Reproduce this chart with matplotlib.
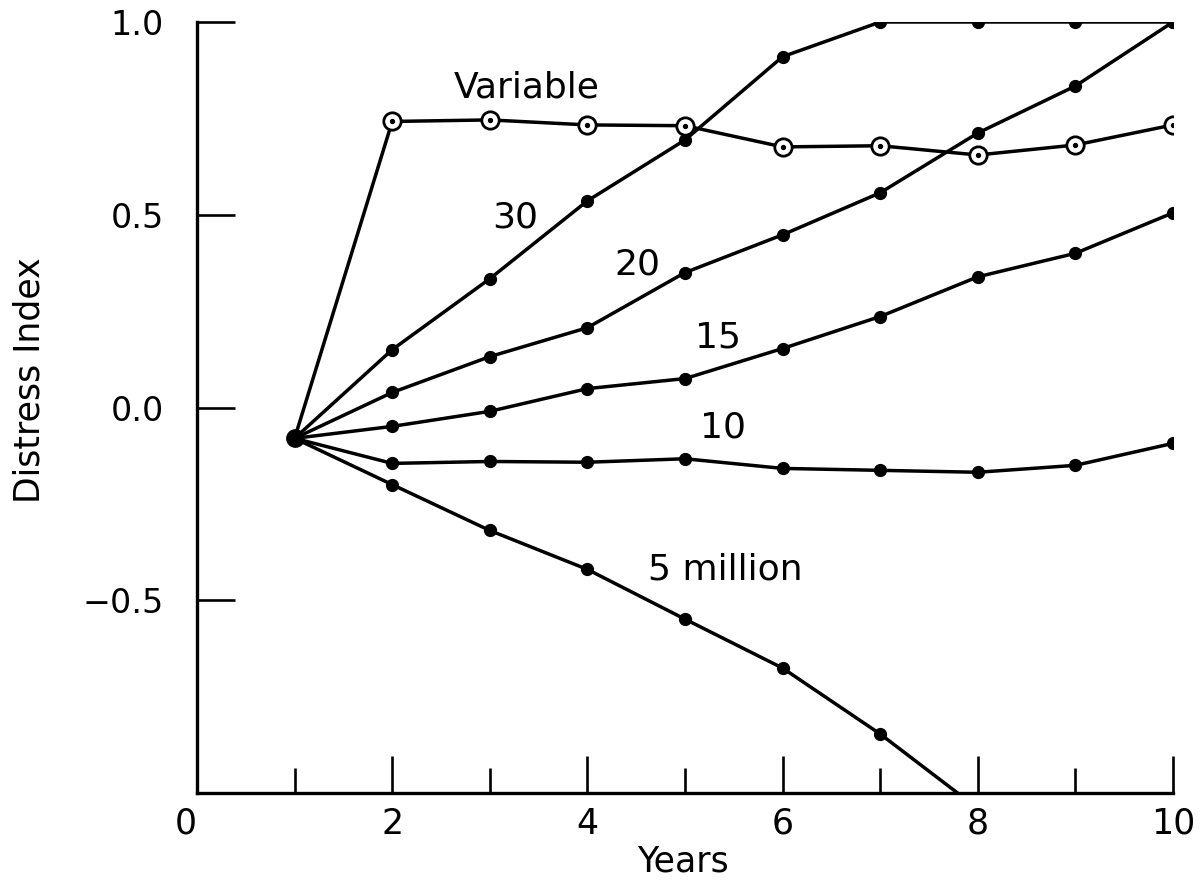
import matplotlib
matplotlib.use("Agg")
import matplotlib.pyplot as plt
from matplotlib.ticker import FixedLocator, FixedFormatter

plt.rcParams['font.family'] = ['DejaVu Sans']

# ---- data ----
years = [1, 2, 3, 4, 5, 6, 7, 8, 9, 10]
start_value = -0.08
series_30 = [-0.08, 0.150, 0.334, 0.536, 0.694, 0.91, 1.0, 1.0, 1.0, 1.0]
series_20 = [-0.08, 0.039, 0.132, 0.207, 0.350, 0.448, 0.557, 0.712, 0.834, 1.0]
series_15 = [-0.08, -0.049, -0.010, 0.049, 0.075, 0.153, 0.236, 0.339, 0.400, 0.505]
series_10 = [-0.08, -0.145, -0.140, -0.142, -0.133, -0.158, -0.163, -0.168, -0.150, -0.093]
years_5 = [1, 2, 3, 4, 5, 6, 7, 8]
series_5 = [-0.08, -0.200, -0.319, -0.420, -0.549, -0.676, -0.847, -1.04]
series_var = [-0.08, 0.742, 0.746, 0.733, 0.731, 0.676, 0.679, 0.655, 0.681, 0.733]

series_labels = ["30", "20", "15", "10", "5 million", "Variable"]
label_pos = [(3.26, 0.492), (4.51, 0.370), (5.34, 0.181), (5.39, -0.052),
             (5.41, -0.42), (3.38, 0.829)]

xtick_major = [0, 2, 4, 6, 8, 10]
xtick_minor = [1, 3, 5, 7, 9]
ytick_vals = [-0.5, 0.0, 0.5, 1.0]
ytick_labels = ["\u22120.5", "0.0", "0.5", "1.0"]

# ---- figure ----
W, H = 1202, 885
fig = plt.figure(figsize=(W / 100, H / 100), dpi=100)
ax = fig.add_axes([197 / W, 1 - 793 / H, (1173 - 197) / W, (793 - 22) / H])
ax.set_xlim(0, 10)
ax.set_ylim(-1.0, 1.0)

lw = 2.5
for ys, xs in [(series_30, years), (series_20, years), (series_15, years),
               (series_10, years), (series_5, years_5)]:
    ax.plot(xs, ys, color='black', lw=lw, zorder=2, solid_capstyle='round')
    ax.plot(xs[1:], ys[1:], 'o', color='black', ms=8.5, zorder=3)

ax.plot(years, series_var, color='black', lw=lw, zorder=2)
ax.plot(years[1:], series_var[1:], 'o', mfc='white', mec='black', mew=2.0,
        ms=12.5, zorder=4)
ax.plot(years[1:], series_var[1:], 'o', color='black', ms=2.8, zorder=5)

ax.plot([years[0]], [start_value], 'o', color='black', ms=12.5, zorder=5)

for txt, (x, y) in zip(series_labels, label_pos):
    ax.text(x, y, txt, fontsize=26, ha='center', va='center')

# spines
for s in ['top', 'right']:
    ax.spines[s].set_visible(False)
for s in ['left', 'bottom']:
    ax.spines[s].set_linewidth(2.4)

ax.xaxis.set_major_locator(FixedLocator(xtick_major))
ax.xaxis.set_major_formatter(FixedFormatter([str(v) for v in xtick_major]))
ax.xaxis.set_minor_locator(FixedLocator(xtick_minor))
ax.yaxis.set_major_locator(FixedLocator(ytick_vals))
ax.yaxis.set_major_formatter(FixedFormatter(ytick_labels))

ax.tick_params(axis='x', which='major', direction='in', length=27, width=1.9,
               labelsize=25, pad=10)
ax.tick_params(axis='x', which='minor', direction='in', length=18, width=1.9)
ax.tick_params(axis='y', which='major', direction='in', length=27, width=1.9,
               labelsize=24, pad=24)

fig.canvas.draw()
ax.xaxis.get_major_ticks()[0].label1.set_horizontalalignment('right')

fig.text(683 / W, 1 - 862 / H, "Years", fontsize=25, ha='center', va='center')
fig.text(30 / W, 1 - 380 / H, "Distress Index", fontsize=25, rotation=90,
         ha='center', va='center')

fig.savefig("out.png", dpi=100)
